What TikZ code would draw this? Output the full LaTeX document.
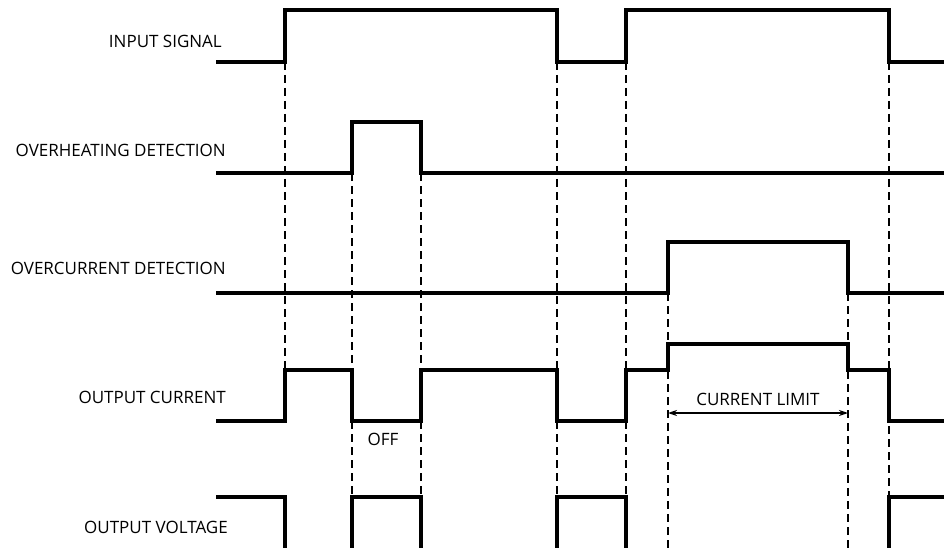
\documentclass[tikz,border=0pt]{standalone}
\usepackage{fontspec}
\setmainfont{Open Sans}
\usetikzlibrary{arrows.meta}
\usetikzlibrary{positioning}
\tikzstyle{wave} = [
    line width=3.8pt,
    line cap=butt,
    line join=miter
]
\tikzstyle{guide} = [
    line width=1.7pt,
    dash pattern=on 8pt off 5pt
]
\tikzstyle{sig_label} = [
    anchor=base east,
    inner sep=0pt,
    font=\fontsize{17}{20}\selectfont
]
\tikzstyle{note_label} = [
    anchor=base,
    inner sep=0pt,
    font=\fontsize{17}{20}\selectfont
]

\begin{document}
\begin{tikzpicture}[x=1pt, y=-1pt]
\useasboundingbox (0,0) rectangle (944,548);

% signal names
\node [sig_label] (lbl_input)   at (222,48)  {INPUT SIGNAL};
\node [sig_label] (lbl_heat)    at (226,157) {OVERHEATING DETECTION};
\node [sig_label] (lbl_over)    at (226,274) {OVERCURRENT DETECTION};
\node [sig_label] (lbl_current) at (226,403) {OUTPUT CURRENT};
\node [sig_label] (lbl_voltage) at (228,533) {OUTPUT VOLTAGE};

% waveforms
\draw [wave] (216,62) -| (285,10) -| (557,62) -| (626,10) -| (889,62) -- (944,62);
\draw [wave] (216,173) -| (352,122) -| (421,173) -- (944,173);
\draw [wave] (216,293) -| (668,242) -| (848,293) -- (944,293);
\draw [wave] (216,421) -| (285,370) -| (352,421) -| (421,370) -| (557,421)
    -| (626,370) -| (668,344) -| (848,370) -| (889,421) -- (944,421);
\draw [wave] (216,497) -| (285,550) -| (352,497) -| (421,550) -| (557,497)
    -| (626,550) -| (889,497) -- (944,497);

% timing guides
\foreach \x/\ya/\yb in {285/62/370, 352/173/370, 421/173/370, 557/62/370,
    626/62/370, 889/62/497, 668/293/548, 848/293/548,
    352/421/497, 421/421/497, 557/421/497, 626/421/497}
    \draw [guide] (\x,\ya) -- (\x,\yb);

% current limit span
\coordinate (limit_l) at (668,413);
\coordinate (limit_r) at (848,413);
\draw [line width=1.5pt, {Stealth[length=9pt, width=6pt]}-{Stealth[length=9pt, width=6pt]}]
    (limit_l) -- (limit_r);
\node [note_label] (lbl_limit) at (758,405) {CURRENT LIMIT};
\node [note_label] (lbl_off) at (383,445) {OFF};
\end{tikzpicture}
\end{document}
